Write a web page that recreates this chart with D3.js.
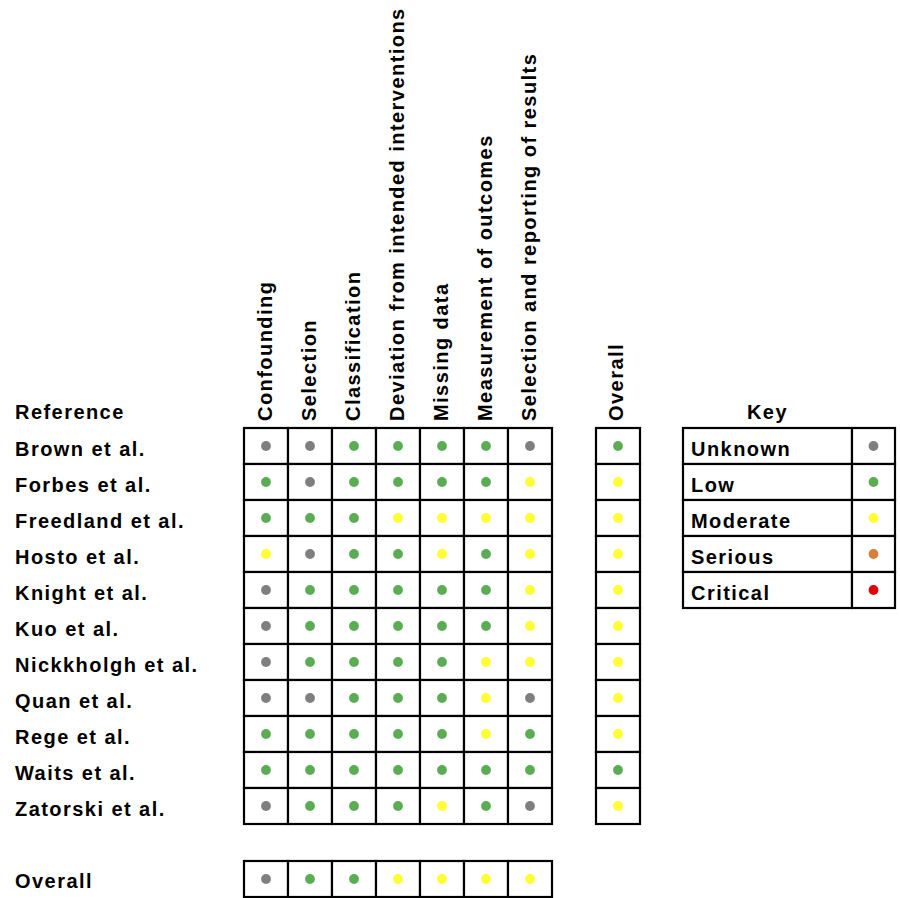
<!DOCTYPE html>
<html>
<head>
<meta charset="utf-8">
<script src="https://cdn.jsdelivr.net/npm/d3@7"></script>
<style>
  body { margin: 0; background: #fff; }
  text {
    font-family: "Liberation Sans", Arial, Helvetica, sans-serif;
    font-weight: bold;
    font-size: 20px;
    letter-spacing: 1.45px;
    fill: #000;
  }
</style>
</head>
<body>
<svg id="chart" width="900" height="898"></svg>
<script>
// domains (columns) of the risk of bias table
var domains = ["Confounding", "Selection", "Classification",
  "Deviation from intended interventions", "Missing data",
  "Measurement of outcomes", "Selection and reporting of results"];

var studies = ["Brown et al.", "Forbes et al.", "Freedland et al.", "Hosto et al.",
  "Knight et al.", "Kuo et al.", "Nickkholgh et al.", "Quan et al.",
  "Rege et al.", "Waits et al.", "Zatorski et al."];

// judgement per study, one entry per domain
var judgements = [
  ["Unknown", "Unknown", "Low", "Low", "Low", "Low", "Unknown"],
  ["Low", "Unknown", "Low", "Low", "Low", "Low", "Moderate"],
  ["Low", "Low", "Low", "Moderate", "Moderate", "Moderate", "Moderate"],
  ["Moderate", "Unknown", "Low", "Low", "Moderate", "Low", "Moderate"],
  ["Unknown", "Low", "Low", "Low", "Low", "Low", "Moderate"],
  ["Unknown", "Low", "Low", "Low", "Low", "Low", "Moderate"],
  ["Unknown", "Low", "Low", "Low", "Low", "Moderate", "Moderate"],
  ["Unknown", "Unknown", "Low", "Low", "Low", "Moderate", "Unknown"],
  ["Low", "Low", "Low", "Low", "Low", "Moderate", "Low"],
  ["Low", "Low", "Low", "Low", "Low", "Low", "Low"],
  ["Unknown", "Low", "Low", "Low", "Moderate", "Low", "Unknown"]
];

var studyOverall = ["Low", "Moderate", "Moderate", "Moderate", "Moderate", "Moderate",
  "Moderate", "Moderate", "Moderate", "Low", "Moderate"];

var domainOverall = ["Unknown", "Low", "Low", "Moderate", "Moderate", "Moderate", "Moderate"];

var keyLevels = ["Unknown", "Low", "Moderate", "Serious", "Critical"];
var keyColors = ["#7f7f7f", "#5aad52", "#ffff33", "#d67f3a", "#e00000"];

var color = d3.scaleOrdinal().domain(keyLevels).range(keyColors);

var svg = d3.select("#chart");

var labelX = 15;
var dotR = 4.9;

// main grid scales
var x = d3.scaleBand().domain(domains).range([244, 552]);
var y = d3.scaleBand().domain(studies).range([428, 824]);
var xOverall = d3.scaleBand().domain(["Overall"]).range([596, 640]);
var yOverall = d3.scaleBand().domain(["Overall"]).range([861, 897]);

function drawCell(g, x0, y0, w, h, level) {
  g.append("rect")
    .attr("x", x0).attr("y", y0)
    .attr("width", w).attr("height", h)
    .attr("fill", "#fff")
    .attr("stroke", "#000")
    .attr("stroke-width", 2.2);
  if (level) {
    g.append("circle")
      .attr("cx", x0 + w / 2)
      .attr("cy", y0 + h / 2)
      .attr("r", dotR)
      .attr("fill", color(level));
  }
}

// column headers (rotated)
svg.append("g").selectAll("text")
  .data(domains)
  .join("text")
    .attr("transform", function(d) {
      return "translate(" + (x(d) + x.bandwidth() / 2 + 6) + ",421) rotate(-90)";
    })
    .text(function(d) { return d; });

svg.append("text")
  .attr("transform", "translate(" + (xOverall("Overall") + xOverall.bandwidth() / 2 + 5) + ",421) rotate(-90)")
  .text("Overall");

// row labels
svg.append("text").attr("x", labelX).attr("y", 419).text("Reference");

svg.append("g").selectAll("text")
  .data(studies)
  .join("text")
    .attr("x", labelX)
    .attr("y", function(d) { return y(d) + y.bandwidth() / 2 + 10; })
    .text(function(d) { return d; });

svg.append("text")
  .attr("x", labelX)
  .attr("y", yOverall("Overall") + yOverall.bandwidth() / 2 + 9)
  .text("Overall");

// main grid
var grid = svg.append("g");
studies.forEach(function(s, i) {
  domains.forEach(function(d, j) {
    drawCell(grid, x(d), y(s), x.bandwidth(), y.bandwidth(), judgements[i][j]);
  });
  drawCell(grid, xOverall("Overall"), y(s), xOverall.bandwidth(), y.bandwidth(), studyOverall[i]);
});

// overall row
domains.forEach(function(d, j) {
  drawCell(grid, x(d), yOverall("Overall"), x.bandwidth(), yOverall.bandwidth(), domainOverall[j]);
});

// key
var keyY = d3.scaleBand().domain(keyLevels).range([428, 608]);
var keyLabelX = 683, keyDotX = 852, keyRight = 895;

svg.append("text")
  .attr("x", (keyLabelX + keyDotX) / 2)
  .attr("y", 419)
  .attr("text-anchor", "middle")
  .text("Key");

var key = svg.append("g");
keyLevels.forEach(function(k) {
  drawCell(key, keyLabelX, keyY(k), keyDotX - keyLabelX, keyY.bandwidth(), null);
  drawCell(key, keyDotX, keyY(k), keyRight - keyDotX, keyY.bandwidth(), k);
  key.append("text")
    .attr("x", keyLabelX + 8)
    .attr("y", keyY(k) + keyY.bandwidth() / 2 + 10)
    .text(k);
});
</script>
</body>
</html>
